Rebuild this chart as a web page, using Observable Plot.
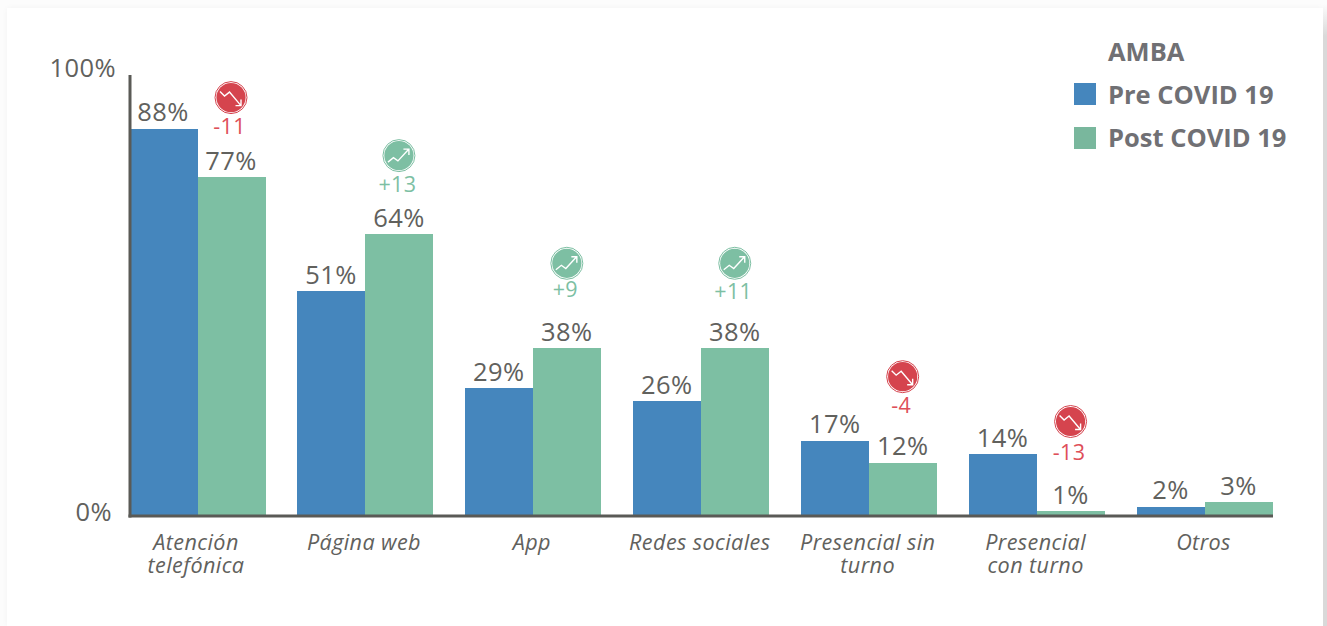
<!DOCTYPE html>
<html lang="es">
<head>
<meta charset="utf-8">
<script src="https://cdn.jsdelivr.net/npm/d3@7"></script>
<script src="https://cdn.jsdelivr.net/npm/@observablehq/plot@0.6"></script>
<style>
  html, body { margin: 0; padding: 0; background: #fcfcfc; overflow: hidden; }
  #page { position: relative; width: 1327px; height: 626px; }
  #card { position: absolute; left: 7px; top: 8px; right: 4px; bottom: 0; background: #fff;
          box-shadow: 0 0 6px rgba(0,0,0,.04); }
  #edge { position: absolute; right: 0; top: 0; width: 4px; height: 626px;
          background: linear-gradient(#fcfcfc 4px, #d9d9d9 36px); }
  #chart { position: absolute; left: 0; top: 0; }
  #legend { position: absolute; left: 1074px; top: 36px; font: 700 25.5px "Open Sans", sans-serif; color: #707074; }
  #legend div { position: absolute; white-space: nowrap; line-height: 34px; }
  #legend i { position: absolute; left: 0; width: 22px; height: 22px; }
</style>
</head>
<body>
<div id="page">
  <div id="card"></div>
  <div id="edge"></div>
  <div id="chart"></div>
  <div id="legend"></div>
</div>
<script>
const categories = ["Atención telefónica", "Página web", "App", "Redes sociales", "Presencial sin turno", "Presencial con turno", "Otros"];
const categoryLines = ["Atención\ntelefónica", "Página web", "App", "Redes sociales", "Presencial sin\nturno", "Presencial\ncon turno", "Otros"];
const preCovid = [88, 51, 29, 26, 17, 14, 2];
const postCovid = [77, 64, 38, 38, 12, 1, 3];
const seriesNames = ["Pre COVID 19", "Post COVID 19"];
const legendTitle = "AMBA";

// Change callouts shown above the post-pandemic bars
const changeCategories = categories.slice(0, 6);
const changes = ["-11", "+13", "+9", "+11", "-4", "-13"];
const iconLevels = [95.2, 82, 57.5, 57.5, 31.7, 21.5];
const changeLevels = [88.4, 75.4, 51.3, 50.9, 24.9, 14.4];

const colors = { pre: "#4586bd", post: "#7dbfa3", fall: "#d5444e", fallText: "#de4f59", rise: "#7dbfa3", ink: "#61615d" };

const bars = categories.flatMap((category, i) => [
  { category, series: seriesNames[0], value: preCovid[i] },
  { category, series: seriesNames[1], value: postCovid[i] }
]);

const callouts = changeCategories.map((category, i) => {
  const falling = changes[i].startsWith("-");
  return {
    category,
    series: seriesNames[1],
    text: changes[i],
    iconLevel: iconLevels[i],
    changeLevel: changeLevels[i],
    tone: falling ? colors.fall : colors.rise,
    textTone: falling ? colors.fallText : colors.rise,
    glyph: falling
      ? "M5.5 10.5 L10 15 L15 11 L26 24 M26.5 18.5 L26.5 24.5 L21 24.5"
      : "M5.5 23 L11 18.5 L15.5 21.8 L26.5 9.8 M21 10 L26.5 10 L26.5 16"
  };
});

const glyphImage = d => "data:image/svg+xml;utf8," + encodeURIComponent(
  `<svg xmlns="http://www.w3.org/2000/svg" viewBox="0 0 33 33"><path d="${d.glyph}" fill="none" stroke="#fff" stroke-width="1.4"/></svg>`);

const xLabel = new Map(categories.map((c, i) => [c, categoryLines[i]]));
const frameStyle = { stroke: "#5a5a56", strokeWidth: 3, strokeOpacity: 1, facet: "super" };
const badgeAnchor = { fx: "category", x: "series", y: "iconLevel", dx: -1 };

const chart = Plot.plot({
  width: 1327,
  height: 626,
  marginLeft: 129.5,
  marginRight: 54,
  marginTop: 76,
  marginBottom: 110.5,
  style: { background: "transparent", fontFamily: "'Open Sans', sans-serif", letterSpacing: "0.4px" },
  fx: { domain: categories, paddingInner: 0.19, paddingOuter: 0, round: false, label: null },
  x: { domain: seriesNames, padding: 0, round: false, axis: null, label: null },
  y: { domain: [0, 100], axis: null, label: null },
  color: { domain: seriesNames, range: [colors.pre, colors.post] },
  marks: [
    Plot.barY(bars, { fx: "category", x: "series", y: "value", fill: "series", inset: 0, shapeRendering: "crispEdges" }),
    Plot.text(bars, { fx: "category", x: "series", y: "value", text: d => `${d.value}%`, dy: -16, dx: -1, fontSize: 25.5, fill: colors.ink }),

    // Trend badge: outer ring, disc and arrow
    Plot.dot(callouts, { ...badgeAnchor, r: 16, fill: "#fff", stroke: d => d.tone, strokeWidth: 1 }),
    Plot.dot(callouts, { ...badgeAnchor, r: 14.6, fill: d => d.tone }),
    Plot.image(callouts, { ...badgeAnchor, src: glyphImage, width: 33, height: 33 }),
    Plot.text(callouts, { fx: "category", x: "series", y: "changeLevel", text: "text", fill: d => d.textTone, fontSize: 21.5, dx: -2.5 }),

    // Value axis and baseline
    Plot.frame({ anchor: "bottom", insetRight: 2, ...frameStyle }),
    Plot.frame({ anchor: "left", ...frameStyle }),
    Plot.axisY([100], { anchor: "left", tickSize: 0, tickPadding: 14, dy: -8, fontSize: 25.5, fill: colors.ink, tickFormat: d => `${d}%`, label: null }),
    Plot.axisY([0], { anchor: "left", tickSize: 0, tickPadding: 18, dy: -3, fontSize: 25.5, fill: colors.ink, tickFormat: d => `${d}%`, label: null }),
    Plot.axisFx({ anchor: "bottom", tickSize: 0, tickPadding: 18, dx: -2, fontSize: 21.6, fontStyle: "italic", lineHeight: 1.06, fill: colors.ink, tickFormat: d => xLabel.get(d), label: null })
  ]
});
document.getElementById("chart").append(chart);

// Series key in the upper right corner
const legend = document.getElementById("legend");
[[legendTitle, null, -2, 0], [seriesNames[0], colors.pre, 41, 47], [seriesNames[1], "#79b79d", 84, 91]].forEach(([label, swatch, top, swatchTop]) => {
  const row = document.createElement("div");
  row.textContent = label;
  row.style.left = "34px";
  row.style.top = `${top}px`;
  legend.append(row);
  if (swatch) {
    const box = document.createElement("i");
    box.style.background = swatch;
    box.style.top = `${swatchTop}px`;
    legend.append(box);
  }
});
</script>
</body>
</html>
